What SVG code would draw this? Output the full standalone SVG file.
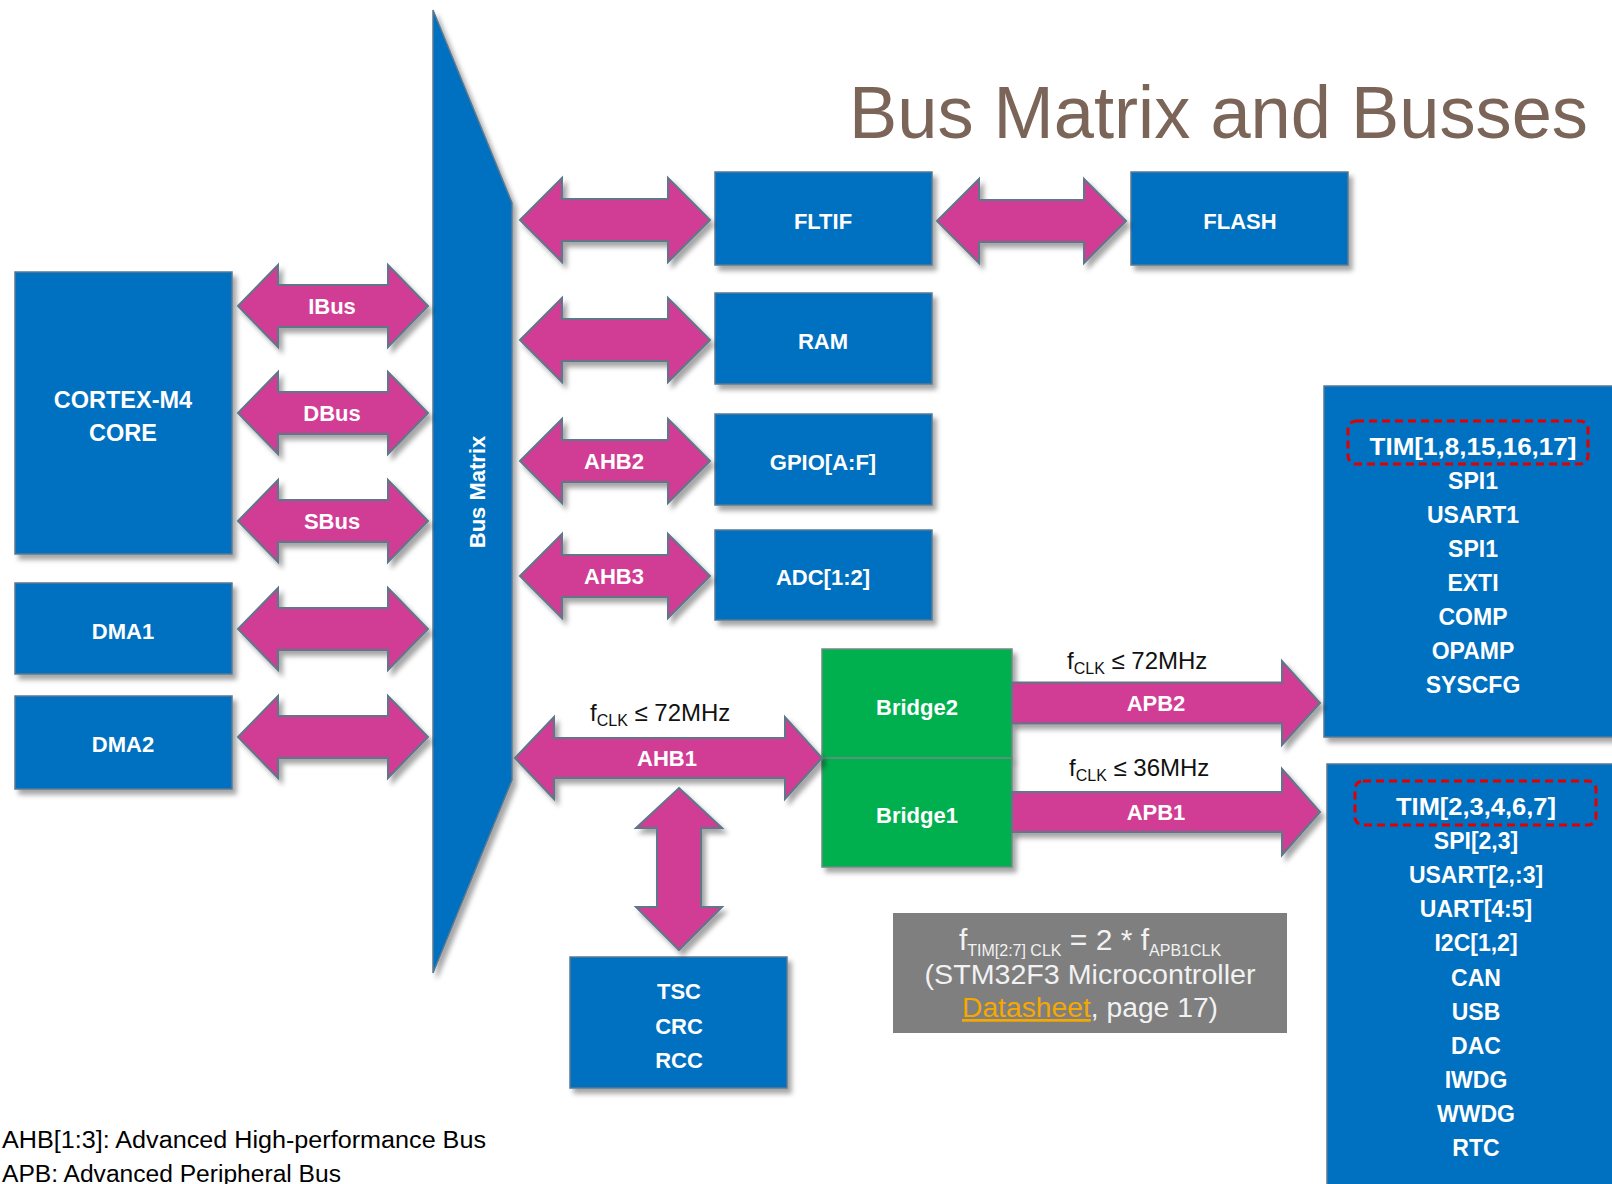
<svg xmlns="http://www.w3.org/2000/svg" width="1612" height="1184" viewBox="0 0 1612 1184">
<defs>
<filter id="sh" x="-10%" y="-10%" width="130%" height="130%">
<feDropShadow dx="4" dy="5" stdDeviation="2.5" flood-color="#000" flood-opacity="0.35"/>
</filter>
<style>
.box{fill:#0070C0;stroke:#5a7891;stroke-width:1.5;filter:url(#sh)}
.br{fill:#00B050;stroke:#6d8a80;stroke-width:1.5;filter:url(#sh)}
.arr{fill:#D13D94;stroke:#5f7789;stroke-width:2;filter:url(#sh)}
.lbl{font-family:"Liberation Sans",Arial,sans-serif;font-weight:bold;fill:#fff;text-anchor:middle;font-size:22px}
.per{font-family:"Liberation Sans",Arial,sans-serif;font-weight:bold;fill:#fff;text-anchor:middle;font-size:23px}
.clk{font-family:"Liberation Sans",Arial,sans-serif;fill:#111;font-size:24px}
.note{font-family:"Liberation Sans",Arial,sans-serif;fill:#f2f2f2;text-anchor:middle;font-size:27px}
.foot{font-family:"Liberation Sans",Arial,sans-serif;fill:#000;font-size:23px}
.dash{fill:none;stroke:#e00000;stroke-width:3;stroke-dasharray:8 5}
</style>
</defs>
<rect width="1612" height="1184" fill="#fff"/>

<text x="849" y="138" font-family="'Liberation Sans',Arial,sans-serif" font-size="74" fill="#7b6458" textLength="739" lengthAdjust="spacingAndGlyphs">Bus Matrix and Busses</text>

<g id="busmatrix">
<polygon class="box" points="433,10 512,203 512,780 433,973"/>
<text class="lbl" transform="translate(485,492) rotate(-90)">Bus Matrix</text>
</g>

<g id="cortex">
<rect class="box" x="15" y="272" width="217" height="282"/>
<text class="lbl" x="123" y="408" style="font-size:23.5px">CORTEX-M4</text>
<text class="lbl" x="123" y="441" style="font-size:23.5px">CORE</text>
</g>
<g id="dma1"><rect class="box" x="15" y="583" width="217" height="91"/><text class="lbl" x="123" y="639">DMA1</text></g>
<g id="dma2"><rect class="box" x="15" y="696" width="217" height="93"/><text class="lbl" x="123" y="752">DMA2</text></g>

<g id="fltif"><rect class="box" x="715" y="172" width="217" height="93"/><text class="lbl" x="823" y="229">FLTIF</text></g>
<g id="ram"><rect class="box" x="715" y="293" width="217" height="91"/><text class="lbl" x="823" y="349">RAM</text></g>
<g id="gpio"><rect class="box" x="715" y="414" width="217" height="91"/><text class="lbl" x="823" y="470">GPIO[A:F]</text></g>
<g id="adc"><rect class="box" x="715" y="530" width="217" height="90"/><text class="lbl" x="823" y="585">ADC[1:2]</text></g>
<g id="flash"><rect class="box" x="1131" y="172" width="217" height="93"/><text class="lbl" x="1240" y="229">FLASH</text></g>

<g id="bridge2"><rect class="br" x="822" y="649" width="190" height="109"/><text class="lbl" x="917" y="715">Bridge2</text></g>
<g id="bridge1"><rect class="br" x="822" y="758" width="190" height="109"/><text class="lbl" x="917" y="823">Bridge1</text></g>

<g id="tsc"><rect class="box" x="570" y="957" width="217" height="131"/>
<text class="lbl" x="679" y="999">TSC</text><text class="lbl" x="679" y="1034">CRC</text><text class="lbl" x="679" y="1068">RCC</text></g>

<g id="apb2periph">
<rect class="box" x="1324" y="386" width="300" height="351"/>
<rect class="dash" x="1348" y="421" width="240" height="43" rx="8"/>
<text class="per" x="1473" y="455" textLength="207" lengthAdjust="spacingAndGlyphs">TIM[1,8,15,16,17]</text>
<text class="per" x="1473" y="489">SPI1</text>
<text class="per" x="1473" y="523">USART1</text>
<text class="per" x="1473" y="557">SPI1</text>
<text class="per" x="1473" y="591">EXTI</text>
<text class="per" x="1473" y="625">COMP</text>
<text class="per" x="1473" y="659">OPAMP</text>
<text class="per" x="1473" y="693">SYSCFG</text>
</g>

<g id="apb1periph">
<rect class="box" x="1327" y="764" width="300" height="440"/>
<rect class="dash" x="1355" y="781" width="241" height="44" rx="8"/>
<text class="per" x="1476" y="815" textLength="160" lengthAdjust="spacingAndGlyphs">TIM[2,3,4,6,7]</text>
<text class="per" x="1476" y="849">SPI[2,3]</text>
<text class="per" x="1476" y="883">USART[2,:3]</text>
<text class="per" x="1476" y="917">UART[4:5]</text>
<text class="per" x="1476" y="951">I2C[1,2]</text>
<text class="per" x="1476" y="986">CAN</text>
<text class="per" x="1476" y="1020">USB</text>
<text class="per" x="1476" y="1054">DAC</text>
<text class="per" x="1476" y="1088">IWDG</text>
<text class="per" x="1476" y="1122">WWDG</text>
<text class="per" x="1476" y="1156">RTC</text>
</g>

<g id="note">
<rect x="893" y="913" width="394" height="120" fill="#7f7f7f"/>
<text class="note" x="1090" y="950" style="font-size:30px">f<tspan font-size="16" dy="6">TIM[2:7] CLK</tspan><tspan dy="-6"> = 2 * f</tspan><tspan font-size="16" dy="6">APB1CLK</tspan></text>
<text class="note" x="1090" y="984" textLength="331" lengthAdjust="spacingAndGlyphs">(STM32F3 Microcontroller</text>
<text class="note" x="1090" y="1017" textLength="256" lengthAdjust="spacingAndGlyphs"><tspan fill="#f5a800" text-decoration="underline">Datasheet</tspan>, page 17)</text>
</g>

<g id="connectors">
<path class="arr" d="M238,306 L278,265 L278,285 L388,285 L388,265 L428,306 L388,347 L388,327 L278,327 L278,347 Z"/>
<path class="arr" d="M238,413 L278,372 L278,392 L388,392 L388,372 L428,413 L388,454 L388,434 L278,434 L278,454 Z"/>
<path class="arr" d="M238,521 L278,480 L278,500 L388,500 L388,480 L428,521 L388,562 L388,542 L278,542 L278,562 Z"/>
<path class="arr" d="M238,629 L278,588 L278,608 L388,608 L388,588 L428,629 L388,670 L388,650 L278,650 L278,670 Z"/>
<path class="arr" d="M238,737 L278,696 L278,716 L388,716 L388,696 L428,737 L388,778 L388,758 L278,758 L278,778 Z"/>

<path class="arr" d="M520,220 L562,178 L562,199 L668,199 L668,178 L710,220 L668,262 L668,241 L562,241 L562,262 Z"/>
<path class="arr" d="M520,340 L562,298 L562,319 L668,319 L668,298 L710,340 L668,382 L668,361 L562,361 L562,382 Z"/>
<path class="arr" d="M520,461 L562,419 L562,440 L668,440 L668,419 L710,461 L668,503 L668,482 L562,482 L562,503 Z"/>
<path class="arr" d="M520,576 L562,534 L562,555 L668,555 L668,534 L710,576 L668,618 L668,597 L562,597 L562,618 Z"/>

<path class="arr" d="M937,221 L979,179 L979,200 L1084,200 L1084,179 L1126,221 L1084,263 L1084,242 L979,242 L979,263 Z"/>

<path class="arr" d="M515,758 L554,717 L554,738 L785,738 L785,717 L822,758 L785,799 L785,778 L554,778 L554,799 Z"/>
<path class="arr" d="M679,788 L722,828 L701,828 L701,907 L722,907 L679,950 L636,907 L657,907 L657,828 L636,828 Z"/>

<path class="arr" d="M1012,682.5 L1282,682.5 L1282,661 L1320,703 L1282,745 L1282,723.5 L1012,723.5 Z"/>
<path class="arr" d="M1012,792 L1282,792 L1282,769 L1320,812 L1282,855 L1282,832 L1012,832 Z"/>

<text class="lbl" x="332" y="314">IBus</text>
<text class="lbl" x="332" y="421">DBus</text>
<text class="lbl" x="332" y="529">SBus</text>
<text class="lbl" x="614" y="469">AHB2</text>
<text class="lbl" x="614" y="584">AHB3</text>
<text class="lbl" x="667" y="766">AHB1</text>
<text class="lbl" x="1156" y="711">APB2</text>
<text class="lbl" x="1156" y="820">APB1</text>

<text class="clk" x="590" y="721">f<tspan font-size="16" dy="5">CLK</tspan><tspan dy="-5"> ≤ 72MHz</tspan></text>
<text class="clk" x="1067" y="669">f<tspan font-size="16" dy="5">CLK</tspan><tspan dy="-5"> ≤ 72MHz</tspan></text>
<text class="clk" x="1069" y="776">f<tspan font-size="16" dy="5">CLK</tspan><tspan dy="-5"> ≤ 36MHz</tspan></text>
</g>

<text class="foot" x="2" y="1148" textLength="484" lengthAdjust="spacingAndGlyphs">AHB[1:3]: Advanced High-performance Bus</text>
<text class="foot" x="2" y="1182" textLength="339" lengthAdjust="spacingAndGlyphs">APB: Advanced Peripheral Bus</text>
</svg>
